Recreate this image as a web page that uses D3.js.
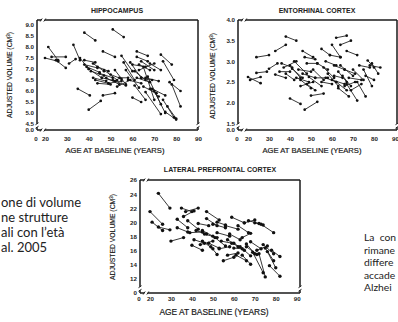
<!DOCTYPE html>
<html>
<head>
<meta charset="utf-8">
<script src="https://cdn.jsdelivr.net/npm/d3@7"></script>
<style>
  body { margin: 0; background: #fff; overflow: hidden; }
  svg { display: block; }
</style>
</head>
<body>
<script>
// each subject: [age at baseline, volume, age at follow-up, volume]
const hippocampus = [
  [20, 7.5, 26, 7.35], [21.5, 8.0, 26, 7.4], [23, 7.55, 29.5, 7.55], [25, 7.4, 29.5, 7.05],
  [31, 7.25, 34, 7.45], [33, 8.1, 36, 7.4], [38, 8.65, 43, 8.3], [51, 8.8, 56, 8.45],
  [35, 6.1, 40.5, 5.8], [40, 5.15, 45.5, 5.55], [46.5, 5.8, 52, 5.9], [46.5, 7.8, 52, 7.55],
  [38, 7.4, 43, 7.3], [36, 7.5, 40, 7.0], [38, 7.2, 44, 7.05], [39, 7.1, 45, 6.85],
  [40, 7.0, 46, 6.6], [41, 6.9, 47, 6.7], [42, 6.6, 48, 6.45], [43, 6.5, 49, 6.35],
  [44, 7.1, 49, 6.9], [45, 6.8, 51, 6.6], [46, 6.6, 52, 6.45], [47, 6.95, 53, 6.5],
  [48, 6.6, 54, 6.3], [49, 6.35, 55, 6.45], [50, 6.75, 55, 6.55], [51, 6.5, 57, 6.25],
  [42, 7.25, 47, 6.9], [44, 6.35, 50, 6.3], [52, 6.95, 57, 6.3], [54, 6.6, 58, 6.6],
  [55, 7.6, 60, 6.9], [56, 7.3, 61, 6.5], [53, 6.2, 59, 6.5], [57, 6.95, 63, 6.15],
  [58, 6.5, 64, 6.35], [59, 7.3, 64, 6.6], [60, 5.7, 64, 5.5], [61, 6.25, 66, 5.6],
  [62, 7.8, 67, 7.6], [62, 7.55, 67, 7.35], [63, 7.2, 68, 6.95], [63, 6.95, 70, 7.25],
  [64, 6.6, 69, 6.5], [64, 7.35, 70, 6.95], [65, 6.2, 71, 5.9], [65, 7.1, 70, 5.6],
  [66, 6.6, 72, 6.45], [66, 5.95, 73, 4.95], [67, 6.65, 73, 5.4], [68, 7.25, 73, 6.95],
  [69, 6.1, 75, 5.8], [73, 7.65, 78, 7.2], [74, 7.35, 79, 6.5], [74, 5.6, 79, 4.8],
  [76, 5.3, 80, 4.75], [77, 6.4, 82, 6.0], [78, 6.3, 82, 5.3], [75, 5.05, 80, 4.7],
  [70, 6.0, 75, 5.0], [68, 6.1, 72, 5.75], [60, 7.2, 66, 7.1], [61, 6.9, 66, 6.5],
  [62, 6.6, 68, 6.4]
];

const entorhinal = [
  [20, 2.62, 26, 2.47], [21, 2.55, 26, 2.62], [24, 3.1, 30, 3.15], [24, 2.72, 29, 2.75],
  [30, 2.82, 34, 2.95], [33, 3.25, 38, 3.4], [38, 3.6, 43, 3.5], [33, 2.68, 38, 2.6],
  [36, 2.95, 41, 2.85], [37, 2.85, 43, 3.0], [38, 2.7, 42, 2.55], [40, 2.1, 45, 1.97],
  [40, 2.9, 45, 2.6], [42, 3.0, 48, 2.7], [43, 2.6, 49, 2.5], [44, 2.8, 50, 2.75],
  [45, 2.4, 51, 2.5], [46, 3.25, 51, 3.1], [47, 3.1, 52, 3.05], [47, 1.83, 53, 2.02],
  [45, 2.55, 50, 2.35], [46, 2.7, 52, 2.6], [48, 2.95, 53, 2.95], [48, 2.45, 52, 2.3],
  [50, 2.17, 56, 2.22], [49, 2.62, 55, 2.4], [51, 2.8, 56, 2.55], [52, 2.6, 58, 2.6],
  [55, 3.3, 59, 3.15], [55, 2.5, 60, 2.45], [56, 2.85, 61, 2.6], [57, 3.0, 62, 2.9],
  [58, 2.7, 63, 2.4], [60, 3.4, 64, 3.1], [59, 3.15, 64, 3.1], [61, 2.9, 66, 2.8],
  [62, 3.57, 67, 3.62], [62, 2.5, 67, 2.3], [63, 2.75, 67, 2.5], [63, 2.35, 68, 2.15],
  [64, 3.4, 69, 3.5], [64, 2.9, 70, 2.65], [65, 2.65, 69, 2.4], [66, 2.8, 71, 2.7],
  [67, 3.25, 72, 3.15], [67, 2.45, 72, 2.05], [68, 2.6, 74, 2.55], [69, 2.3, 74, 2.45],
  [70, 2.8, 75, 2.55], [72, 2.5, 76, 2.15], [73, 2.9, 78, 2.85], [75, 2.8, 79, 2.4],
  [76, 2.65, 80, 2.55], [77, 3.02, 80, 2.85], [78, 2.9, 83, 2.85], [79, 2.95, 82, 2.7],
  [60, 2.55, 66, 2.45], [61, 2.65, 65, 2.6], [66, 2.4, 71, 2.5], [57, 2.6, 62, 2.5],
  [53, 2.95, 58, 2.8], [41, 2.82, 46, 2.6], [35, 2.75, 40, 2.75]
];

const prefrontal = [
  [20, 21.5, 26, 19.7], [21, 20.0, 26, 18.8], [24, 24.1, 29.5, 22.0], [24, 19.3, 29.5, 18.9],
  [30, 17.3, 36, 17.8], [33, 20.4, 38, 19.2], [33, 19.2, 38, 18.6], [35, 22.0, 40, 21.5],
  [37, 21.5, 43, 22.0], [36, 20.8, 41, 21.6], [38, 20.2, 43, 19.0], [39, 18.5, 45, 18.6],
  [40, 16.7, 45, 16.0], [41, 17.5, 46, 17.0], [42, 18.8, 47, 18.3], [43, 19.8, 48, 19.5],
  [44, 16.8, 50, 17.3], [45, 17.3, 50, 16.2], [46, 18.3, 52, 17.8], [47, 21.5, 53, 20.3],
  [47, 20.5, 52, 19.5], [48, 17.0, 53, 16.3], [49, 16.5, 52, 15.4], [50, 19.7, 56, 19.2],
  [51, 17.8, 56, 16.6], [52, 18.5, 58, 18.0], [53, 16.2, 58, 16.5], [55, 14.5, 60, 15.0],
  [56, 19.5, 62, 19.0], [57, 17.5, 62, 16.5], [59, 20.7, 65, 19.9], [58, 18.3, 63, 17.5],
  [60, 17.0, 65, 16.0], [61, 15.3, 66, 14.5], [62, 19.5, 67, 18.5], [63, 16.5, 68, 15.2],
  [64, 17.8, 68, 18.4], [64, 15.3, 68, 14.0], [65, 19.9, 70, 20.3], [66, 16.5, 71, 15.4],
  [67, 20.2, 72, 19.8], [68, 17.2, 73, 16.2], [69, 15.7, 74, 12.8], [70, 19.9, 74, 19.6],
  [71, 16.0, 76, 16.6], [72, 15.5, 75, 12.2], [73, 19.7, 79, 18.5], [74, 16.8, 79, 15.5],
  [76, 15.8, 80, 13.5], [77, 13.8, 82, 12.3], [78, 16.0, 82, 15.1], [75, 16.3, 79, 14.5],
  [66, 16.9, 70, 15.5], [60, 16.3, 64, 16.2], [54, 17.3, 59, 17.0], [57, 15.3, 62, 15.6],
  [45, 18.8, 50, 18.0], [52, 20.0, 56, 19.6]
];

const ageTicks = [20, 30, 40, 50, 60, 70, 80, 90];
const hippoTicks = [4.5, 5.0, 5.5, 6.0, 6.5, 7.0, 7.5, 8.0, 8.5, 9.0];
const entoTicks = [1.5, 2.0, 2.5, 3.0, 3.5, 4.0];
const pfcTicks = [12, 14, 16, 18, 20, 22, 24, 26];

const leftText = ["one di volume", "ne strutture", "ali con l\u2019et\u00e0", "al. 2005"];
const rightText = ["La  con", "rimane", "differe", "accade", "Alzhei"];

const W = 398, H = 322;
const svg = d3.select("body").append("svg")
  .attr("width", W).attr("height", H)
  .attr("font-family", "'Liberation Sans', Arial, sans-serif");

function drawPanel(p) {
  const g = svg.append("g");
  const x = d3.scaleLinear([20, 90], [p.x20, p.x90]);
  const y = d3.scaleLinear([p.yLo, p.yHi], [p.pyLo, p.pyHi]);

  // frame with breaks
  const xb = p.left + 6, yb = p.bottom - 4.5, gap = 1.8;
  const frame = [
    [p.left, p.top, p.left, yb - gap], [p.left, yb + gap, p.left, p.bottom],
    [p.left, p.bottom, xb - gap, p.bottom], [xb + gap, p.bottom, p.right, p.bottom],
    [p.left, p.top, xb - gap, p.top], [xb + gap, p.top, p.right, p.top],
    [p.right, p.top, p.right, yb - gap], [p.right, yb + gap, p.right, p.bottom]
  ];
  g.selectAll("line.frame").data(frame).enter().append("line")
    .attr("x1", d => d[0]).attr("y1", d => d[1])
    .attr("x2", d => d[2]).attr("y2", d => d[3])
    .attr("stroke", "#1a1a1a").attr("stroke-width", 1.5);
  // break marks
  const marks = [
    [p.left - 1.5, yb - gap + 1, p.left + 1.5, yb - gap - 1], [p.left - 1.5, yb + gap + 1, p.left + 1.5, yb + gap - 1],
    [xb - gap - 1, p.bottom + 1.5, xb - gap + 1, p.bottom - 1.5], [xb + gap - 1, p.bottom + 1.5, xb + gap + 1, p.bottom - 1.5],
    [xb - gap - 1, p.top + 1.5, xb - gap + 1, p.top - 1.5], [xb + gap - 1, p.top + 1.5, xb + gap + 1, p.top - 1.5],
    [p.right - 1.5, yb - gap + 1, p.right + 1.5, yb - gap - 1], [p.right - 1.5, yb + gap + 1, p.right + 1.5, yb + gap - 1]
  ];
  g.selectAll("line.mark").data(marks).enter().append("line")
    .attr("x1", d => d[0]).attr("y1", d => d[1])
    .attr("x2", d => d[2]).attr("y2", d => d[3])
    .attr("stroke", "#1a1a1a").attr("stroke-width", 1);

  // axes (labels only)
  const xa = g.append("g").attr("transform", `translate(0,${p.bottom})`)
    .call(d3.axisBottom(x).tickValues(ageTicks).tickSize(0).tickPadding(p.xPad));
  const ya = g.append("g").attr("transform", `translate(${p.left},0)`)
    .call(d3.axisLeft(y).tickValues(p.ticks).tickSize(0).tickPadding(3)
      .tickFormat(p.fmt));
  [xa, ya].forEach(a => {
    a.select(".domain").remove();
    a.selectAll("text").attr("font-size", p.tickSize).attr("font-weight", "bold")
      .attr("fill", "#222").attr("font-family", "'Liberation Sans', Arial, sans-serif");
  });
  g.append("text").attr("x", p.left - 1).attr("y", p.bottom + p.xPad).attr("dy", "0.71em")
    .attr("text-anchor", "middle").attr("font-size", p.tickSize).attr("font-weight", "bold")
    .attr("fill", "#222").text("0");
  g.append("text").attr("x", p.left - 3).attr("y", p.bottom).attr("dy", "0.32em")
    .attr("text-anchor", "end").attr("font-size", p.tickSize).attr("font-weight", "bold")
    .attr("fill", "#222").text(p.zero);

  // titles
  g.append("text").attr("x", p.titleX).attr("y", p.titleY)
    .attr("text-anchor", "middle").attr("font-size", 7).attr("font-weight", "bold")
    .attr("fill", "#222").text(p.title);
  g.append("text").attr("x", p.xtX).attr("y", p.xtY)
    .attr("text-anchor", "middle").attr("font-size", p.xtSize)
    .attr("fill", "#1a1a1a").attr("stroke", "#1a1a1a").attr("stroke-width", 0.2)
    .text("AGE AT BASELINE (YEARS)");
  const yt = g.append("text")
    .attr("transform", `translate(${p.ytX},${p.ytY}) rotate(-90)`)
    .attr("text-anchor", "middle").attr("font-size", 6.8)
    .attr("fill", "#1a1a1a").attr("stroke", "#1a1a1a").attr("stroke-width", 0.15);
  yt.append("tspan").text("ADJUSTED VOLUME (CM");
  yt.append("tspan").attr("font-size", 4.5).attr("dy", -2.5).text("3");
  yt.append("tspan").attr("dy", 2.5).text(")");

  // subjects
  g.selectAll("line.seg").data(p.data).enter().append("line")
    .attr("x1", d => x(d[0])).attr("y1", d => y(d[1]))
    .attr("x2", d => x(d[2])).attr("y2", d => y(d[3]))
    .attr("stroke", "#222").attr("stroke-width", 0.9);
  const pts = p.data.flatMap(d => [[d[0], d[1]], [d[2], d[3]]]);
  g.selectAll("circle").data(pts).enter().append("circle")
    .attr("cx", d => x(d[0])).attr("cy", d => y(d[1]))
    .attr("r", p.r).attr("fill", "#111");
}

drawPanel({
  data: hippocampus, ticks: hippoTicks, fmt: d3.format(".1f"), zero: "0.0",
  left: 37, right: 198, top: 20, bottom: 130,
  x20: 45, x90: 198, yLo: 4.5, yHi: 9.0, pyLo: 124, pyHi: 25,
  tickSize: 6.2, xPad: 7, r: 1.35,
  title: "HIPPOCAMPUS", titleX: 117, titleY: 13,
  xtX: 115, xtY: 153, xtSize: 7.6, ytX: 12, ytY: 75
});
drawPanel({
  data: entorhinal, ticks: entoTicks, fmt: d3.format(".1f"), zero: "0.0",
  left: 238, right: 397, top: 20, bottom: 130,
  x20: 248, x90: 395, yLo: 1.5, yHi: 4.0, pyLo: 123.3, pyHi: 20,
  tickSize: 6.2, xPad: 7, r: 1.35,
  title: "ENTORHINAL CORTEX", titleX: 317, titleY: 13,
  xtX: 312, xtY: 153, xtSize: 7.6, ytX: 215, ytY: 76
});
drawPanel({
  data: prefrontal, ticks: pfcTicks, fmt: d3.format("d"), zero: "0",
  left: 140, right: 300, top: 180, bottom: 293,
  x20: 150, x90: 296.7, yLo: 12, yHi: 26, pyLo: 278.3, pyHi: 180,
  tickSize: 6.2, xPad: 4, r: 1.7,
  title: "LATERAL PREFRONTAL CORTEX", titleX: 220, titleY: 172,
  xtX: 214, xtY: 315, xtSize: 8.4, ytX: 115, ytY: 237
});

// slide text cropped at the edges
svg.append("g").selectAll("text").data(leftText).enter().append("text")
  .attr("x", 1).attr("y", (d, i) => 207 + i * 15)
  .attr("font-family", "Lato, 'Open Sans', sans-serif").attr("font-size", 13)
  .attr("fill", "#222").text(d => d);
svg.append("g").selectAll("text").data(rightText).enter().append("text")
  .attr("x", 364).attr("y", (d, i) => 241 + i * 12.6)
  .attr("font-family", "Lato, 'Open Sans', sans-serif").attr("font-size", 10.3)
  .style("white-space", "pre")
  .attr("fill", "#222").text(d => d);
</script>
</body>
</html>
